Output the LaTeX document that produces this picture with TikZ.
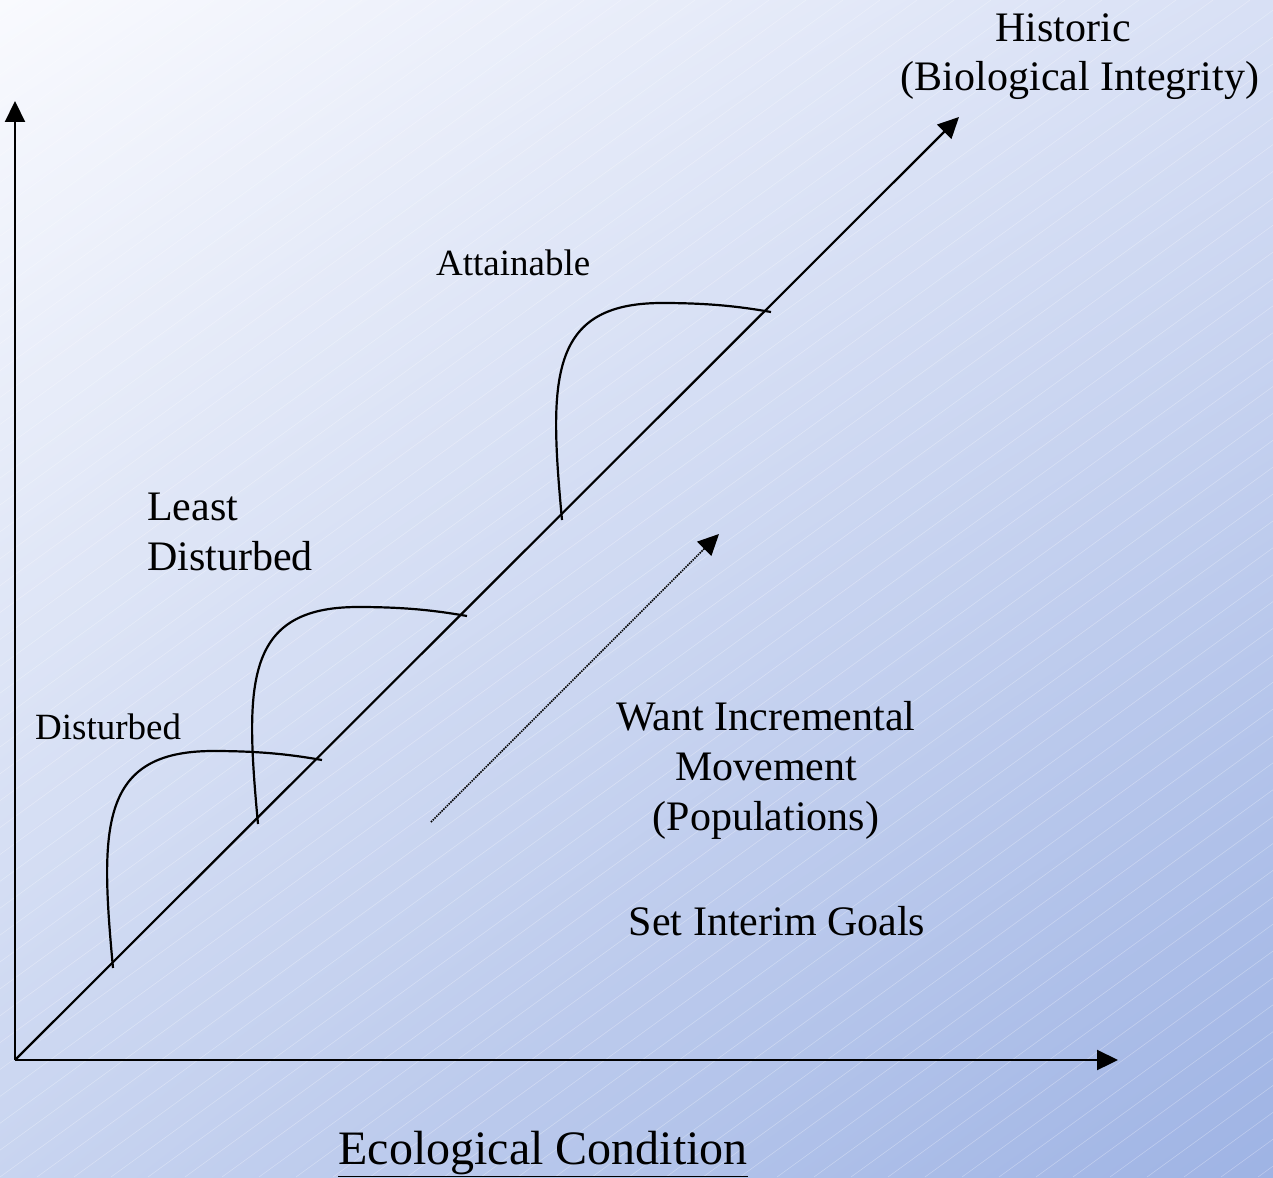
\documentclass[tikz,border=0pt]{standalone}
\usepackage{fontspec}
\setmainfont{Liberation Serif}
\usetikzlibrary{arrows.meta, shadings}

\definecolor{bgtopleft}{RGB}{249,250,254}
\definecolor{bgtopright}{RGB}{216,224,245}
\definecolor{bgbottomleft}{RGB}{200,212,240}
\definecolor{bgbottomright}{RGB}{158,179,228}

\begin{document}
\begin{tikzpicture}[x=1pt, y=-1pt,
        axis/.style={line width=2.2pt, -{Triangle[length=21pt, width=20pt]}},
        hump/.style={line width=2.2pt},
        bigtext/.style={inner sep=0pt, font=\fontsize{42}{50}\selectfont},
        smalltext/.style={inner sep=0pt, font=\fontsize{37}{44}\selectfont}]

            % the frame
            \useasboundingbox (0,0) rectangle (1273,1177);
            \shade[upper left=bgtopleft, upper right=bgtopright,
                lower left=bgbottomleft, lower right=bgbottomright] (0,0) rectangle (1273,1177);
            \begin{scope}
                \clip (0,0) rectangle (1273,1177);
                \foreach \k in {-46,...,35} {
                    \draw[white, opacity=0.3, line width=0.6pt] ({\k*37}, 1177) -- ({\k*37+1620}, 0);
                }
            \end{scope}

            % the axes
            \coordinate (origin) at (15,1060);
            \coordinate (ytop) at (15,101);
            \coordinate (xend) at (1118,1060);
            \coordinate (historictip) at (959,117);
            \draw[axis] (origin) -- (ytop);
            \draw[axis] (origin) -- (xend);
            \draw[axis] (origin) -- (historictip);

            % the humps
            \foreach \sx/\sy in {113/968, 258/824, 562/520} {
                \draw[hump, shift={(\sx,\sy)}] (0,0) .. controls (-13,-140) and (-14,-217) .. (100,-217)
                    .. controls (150,-217) and (180,-213) .. (209,-208);
            }

            % incremental movement
            \coordinate (movestart) at (431,822);
            \coordinate (moveend) at (719,534);
            \draw[densely dotted, line width=1.5pt, -{Triangle[length=21pt, width=20pt]}] (movestart) -- (moveend);

            % labels
            \node[bigtext, anchor=base] (historic) at (1063,42) {Historic};
            \node[bigtext, anchor=base] (integrity) at (1080,91) {(Biological Integrity)};
            \node[smalltext, anchor=base west] (attainable) at (436,275) {Attainable};
            \node[bigtext, anchor=base west, align=left] (leastdist) at (147,570) {Least\\Disturbed};
            \node[smalltext, anchor=base west] (disturbed) at (35,739) {Disturbed};
            \node[bigtext, anchor=base, align=center] (movement) at (766,830) {Want Incremental\\Movement\\(Populations)};
            \node[bigtext, anchor=base] (interim) at (777,935) {Set Interim Goals};
            \node[inner sep=0pt, anchor=base, font=\fontsize{48}{56}\selectfont] (condition) at (543,1164) {\underline{Ecological Condition}};
        \end{tikzpicture}
\end{document}
